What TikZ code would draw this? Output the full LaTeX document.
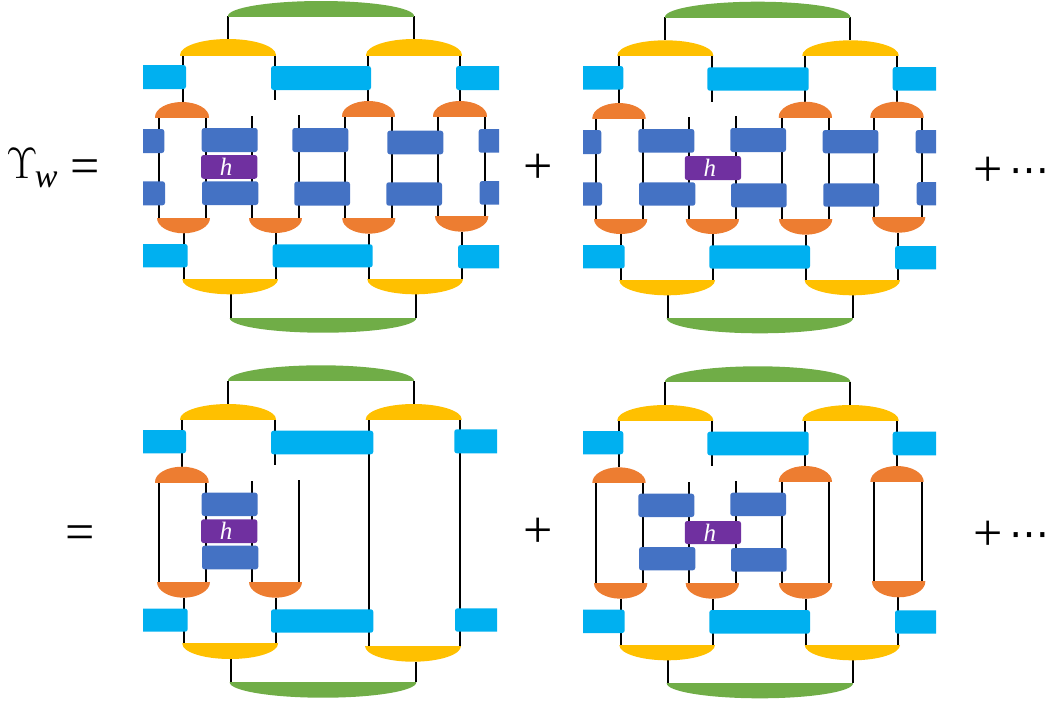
\documentclass[tikz,border=0pt]{standalone}
\usepackage{fix-cm}
\usepackage{fontspec}
\setmainfont{Liberation Serif}
\newfontfamily\dotsfont{DejaVu Sans}
\usetikzlibrary{backgrounds}
\definecolor{capgreen}{RGB}{112, 173, 71}
\definecolor{capyellow}{RGB}{255, 192, 0}
\definecolor{caporange}{RGB}{237, 125, 49}
\definecolor{boxcyan}{RGB}{0, 176, 240}
\definecolor{boxblue}{RGB}{68, 114, 196}
\definecolor{boxpurple}{RGB}{112, 48, 160}

% block from corner to corner, half ellipse cap on its flat side
\newcommand{\tbox}[6]{\node[#2, minimum width={(#5-#3)*1pt}, minimum height={(#6-#4)*1pt}] (#1) at ({(#3+#5)/2},{(#4+#6)/2}) {};}
\newcommand{\tcap}[7]{\node[capbox, minimum width={(#6-#4)*1pt}, minimum height={(#7-#5)*1pt},
  path picture={\fill[#2] (path picture bounding box.#3) ellipse [x radius={(#6-#4)/2}, y radius={#7-#5}];}] (#1) at ({(#4+#6)/2},{(#5+#7)/2}) {};}
\newcommand{\leg}[3]{\draw[leg] (#3,0 |- #1) -- (#3,0 |- #2);}
\newcommand{\hsym}{\hspace*{-6pt}\textit{h}}

\begin{document}
\begin{tikzpicture}[
  x=1pt, y=-1pt,
  capbox/.style={rectangle, inner sep=0pt, outer sep=0pt},
  cyanbox/.style={capbox, fill=boxcyan, rounded corners=2.5pt},
  bluebox/.style={capbox, fill=boxblue, rounded corners=2.5pt},
  purplebox/.style={capbox, fill=boxpurple, rounded corners=2.5pt, text=white, font=\fontsize{25}{29}\selectfont},
  leg/.style={line width=2pt, black},
  eq/.style={inner sep=0pt, font=\fontsize{52}{60}\selectfont},
  dotseq/.style={inner sep=0pt, font=\fontsize{40}{48}\dotsfont}
]
\useasboundingbox (0,0) rectangle (1047,705);

% Top left
\begin{scope}
\clip (143,0) rectangle (499,340);
\tcap{aG1}{capgreen}{south}{228}{1}{414}{16}
\tcap{aG2}{capgreen}{north}{229.7}{318}{416.3}{332.7}
\foreach \n/\xa/\xb in {aY1/180/276, aY2/366/462}{\tcap{\n}{capyellow}{south}{\xa}{39}{\xb}{55}}
\foreach \n/\xa/\xb in {aY3/182.3/278, aY4/367.3/463}{\tcap{\n}{capyellow}{north}{\xa}{279.3}{\xb}{294.3}}
\foreach \n/\xa/\ya/\xb/\yb in {aO1/155/102/209/117, aO2/342/101/395/116, aO3/433/101/487/116}{\tcap{\n}{caporange}{south}{\xa}{\ya}{\xb}{\yb}}
\foreach \n/\xa/\ya/\xb/\yb in {aO4/157/218/210/233.3, aO5/249/218/302/233, aO6/342.3/218.7/395.3/233.7, aO7/435/216.3/488.3/231.7}{\tcap{\n}{caporange}{north}{\xa}{\ya}{\xb}{\yb}}
\foreach \n/\xa/\ya/\xb/\yb in {aC1/137/65/186/89, aC2/271/66/371/90, aC3/456/66/505/90, aC4/137/244/187.7/267.3, aC5/272.7/244.3/372.7/267.3, aC6/458/245/505/268.3}{\tbox{\n}{cyanbox}{\xa}{\ya}{\xb}{\yb}}
\foreach \n/\xa/\ya/\xb/\yb in {aB1/137/129/164.3/153, aB2/201.7/128/257.7/152, aB3/292.3/128/348.3/152, aB4/387.3/130.7/443.3/154.3, aB5/478.7/129/505/152.7, aB6/137/181.3/165/205.3, aB7/202/181.3/258.3/205, aB8/294.3/181.7/350/205.7, aB9/386.3/182.3/442/205.7, aB10/479.7/181/505/204.7}{\tbox{\n}{bluebox}{\xa}{\ya}{\xb}{\yb}}
\node[purplebox, minimum width=56.3pt, minimum height=23.7pt] (aH) at (229.2,166.9) {\hsym};
\end{scope}

% Top right
\begin{scope}
\clip (583,0) rectangle (936,340);
\tcap{bG1}{capgreen}{south}{665}{1.7}{850.3}{17}
\tcap{bG2}{capgreen}{north}{666.7}{318.3}{853}{333.3}
\foreach \n/\xa/\xb in {bY1/617.3/713.3, bY2/802.3/898.7}{\tcap{\n}{capyellow}{south}{\xa}{40.3}{\xb}{55.3}}
\foreach \n/\xa/\xb in {bY3/619.3/715, bY4/804.7/900}{\tcap{\n}{capyellow}{north}{\xa}{280.3}{\xb}{295.3}}
\foreach \n/\xa/\ya/\xb/\yb in {bO1/592.3/103/645.7/118.3, bO2/778.7/101.7/832/117, bO3/870.3/101.7/923.7/117}{\tcap{\n}{caporange}{south}{\xa}{\ya}{\xb}{\yb}}
\foreach \n/\xa/\ya/\xb/\yb in {bO4/594/219/647.3/234, bO5/685.7/219/739/234, bO6/779/219/832.3/234.7, bO7/872/217/925.3/232.7}{\tcap{\n}{caporange}{north}{\xa}{\ya}{\xb}{\yb}}
\foreach \n/\xa/\ya/\xb/\yb in {bC1/577/66/623.3/89.7, bC2/707.3/67.3/808.7/90.7, bC3/892.7/67/942/90.7, bC4/577/245/624.7/268.3, bC5/709.3/245.3/810/268.7, bC6/895/246/942/269.3}{\tbox{\n}{cyanbox}{\xa}{\ya}{\xb}{\yb}}
\foreach \n/\xa/\ya/\xb/\yb in {bB1/577/130/601.3/154, bB2/638.3/129/694.3/152.7, bB3/730.3/128/786/152, bB4/822.7/130/878.3/153.3, bB5/915.7/130/942/153.3, bB6/577/182.3/602/205.7, bB7/639/182.3/695.3/205.7, bB8/731/183.3/786.7/207.3, bB9/823.3/183.3/879/206.7, bB10/916.7/182/942/205.3}{\tbox{\n}{bluebox}{\xa}{\ya}{\xb}{\yb}}
\node[purplebox, minimum width=56.3pt, minimum height=24pt] (bH) at (712.9,168) {\hsym};
\end{scope}

% Bottom left
\begin{scope}
\clip (143,360) rectangle (497,705);
\tcap{cG1}{capgreen}{south}{228}{365.3}{414}{380.7}
\tcap{cG2}{capgreen}{north}{229.7}{682.3}{416.3}{697.7}
\foreach \n/\xa/\xb in {cY1/180/276, cY2/365.7/461.7}{\tcap{\n}{capyellow}{south}{\xa}{404}{\xb}{419.3}}
\tcap{cY3}{capyellow}{north}{182.3}{643.7}{278}{659}
\tcap{cY4}{capyellow}{north}{365}{646}{461}{661.7}
\tcap{cO1}{caporange}{south}{155}{466.7}{208.7}{482}
\foreach \n/\xa/\xb in {cO4/157/210, cO5/249/302}{\tcap{\n}{caporange}{north}{\xa}{582}{\xb}{597.7}}
\foreach \n/\xa/\ya/\xb/\yb in {cC1/137/430/186/453.3, cC2/271/430.7/373.3/454.3, cC3/454.3/429.3/503/453.3, cC4/137/608.7/187.7/631.7, cC5/271/609.3/373.3/632.7, cC6/455/608.3/503/631.7}{\tbox{\n}{cyanbox}{\xa}{\ya}{\xb}{\yb}}
\tbox{cB2}{bluebox}{201.7}{492.7}{257.7}{516}
\tbox{cB7}{bluebox}{202}{545.7}{258.3}{569.3}
\node[purplebox, minimum width=56.3pt, minimum height=23.7pt] (cH) at (229.2,531.2) {\hsym};
\end{scope}

% Bottom right
\begin{scope}
\clip (583,360) rectangle (936,705);
\tcap{dG1}{capgreen}{south}{665}{366.3}{850.3}{381.7}
\tcap{dG2}{capgreen}{north}{666.7}{683.3}{853}{698.3}
\foreach \n/\xa/\xb in {dY1/617.3/713.3, dY2/802.3/898.7}{\tcap{\n}{capyellow}{south}{\xa}{405}{\xb}{420.3}}
\foreach \n/\xa/\xb in {dY3/619.3/715, dY4/804.7/900}{\tcap{\n}{capyellow}{north}{\xa}{645}{\xb}{660.3}}
\foreach \n/\xa/\ya/\xb/\yb in {dO1/592.3/467.3/645.7/482.7, dO2/778.7/466/832/481.7, dO3/870.3/466/923.7/481.7}{\tcap{\n}{caporange}{south}{\xa}{\ya}{\xb}{\yb}}
\foreach \n/\xa/\ya/\xb/\yb in {dO4/594/583.3/647.3/598.7, dO5/685.7/583.3/739/598.7, dO6/779/583.3/832.3/598.7, dO7/872/581.7/925.3/597.3}{\tcap{\n}{caporange}{north}{\xa}{\ya}{\xb}{\yb}}
\foreach \n/\xa/\ya/\xb/\yb in {dC1/577/431/623.3/454.3, dC2/707.3/431.7/808.7/455.3, dC3/892.7/431.7/942/455.3, dC4/577/609.7/624.7/633, dC5/709.3/610/810/633.7, dC6/895/610.3/942/633.7}{\tbox{\n}{cyanbox}{\xa}{\ya}{\xb}{\yb}}
\foreach \n/\xa/\ya/\xb/\yb in {dB2/638.3/493.7/694.3/517, dB3/730.3/492.7/786/516, dB7/639/547/695.3/570.3, dB8/731/548/786.7/571.7}{\tbox{\n}{bluebox}{\xa}{\ya}{\xb}{\yb}}
\node[purplebox, minimum width=56.3pt, minimum height=23pt] (dH) at (712.9,532.5) {\hsym};
\end{scope}

% Free leg ends
\coordinate (aE1) at (274.7,100);
\coordinate (aE2) at (252.3,116);
\coordinate (aE3) at (299.3,115);
\coordinate (bE1) at (711.7,101.7);
\coordinate (bE2) at (689.3,117);
\coordinate (bE3) at (736,116);
\coordinate (cE1) at (274.7,464.7);
\coordinate (cE2) at (252.3,481);
\coordinate (cE3) at (299.3,480);
\coordinate (dE1) at (711.7,466);
\coordinate (dE2) at (689.3,482);
\coordinate (dE3) at (736,481);

% Legs
\begin{scope}[on background layer]
\foreach \p/\q/\x in {aG1.south/aY1.north/228, aG1.south/aY2.north/414, aY1.south/aO1.north/182.5, aY1.south/aE1/274.7, aY2.south/aO2.north/367.7, aY2.south/aO3.north/460,
  aO1.south/aO4.north/159.3, aO1.south/aO4.north/206, aE2/aO5.north/252.3, aE3/aO5.north/299.3, aO2.south/aO6.north/344.7, aO2.south/aO6.north/392, aO3.south/aO7.north/437.7, aO3.south/aO7.north/485,
  aO4.south/aY3.north/184, aO5.south/aY3.north/276.3, aO6.south/aY4.north/369, aO7.south/aY4.north/461.7, aY3.south/aG2.north/230.7, aY4.south/aG2.north/415.7}{\leg{\p}{\q}{\x}}
\foreach \p/\q/\x in {bG1.south/bY1.north/665, bG1.south/bY2.north/850.3, bY1.south/bO1.north/619.3, bY1.south/bE1/711.7, bY2.south/bO2.north/804.7, bY2.south/bO3.north/897,
  bO1.south/bO4.north/596.3, bO1.south/bO4.north/643.3, bE2/bO5.north/689.3, bE3/bO5.north/736, bO2.south/bO6.north/781.7, bO2.south/bO6.north/829, bO3.south/bO7.north/874.3, bO3.south/bO7.north/921.7,
  bO4.south/bY3.north/621, bO5.south/bY3.north/713.3, bO6.south/bY4.north/806, bO7.south/bY4.north/898.3, bY3.south/bG2.north/667.7, bY4.south/bG2.north/852.7}{\leg{\p}{\q}{\x}}
\foreach \p/\q/\x in {cG1.south/cY1.north/228, cG1.south/cY2.north/413.7, cY1.south/cO1.north/182.3, cY1.south/cE1/274.7, cY2.south/cY4.north/368.7, cY2.south/cY4.north/459.7,
  cO1.south/cO4.north/159.3, cO1.south/cO4.north/206, cE2/cO5.north/252.3, cE3/cO5.north/299.3,
  cO4.south/cY3.north/184, cO5.south/cY3.north/276.3, cY3.south/cG2.north/230.7, cY4.south/cG2.north/415.7}{\leg{\p}{\q}{\x}}
\foreach \p/\q/\x in {dG1.south/dY1.north/665, dG1.south/dY2.north/850.3, dY1.south/dO1.north/619.3, dY1.south/dE1/711.7, dY2.south/dO2.north/804.7, dY2.south/dO3.north/897,
  dO1.south/dO4.north/596.3, dO1.south/dO4.north/643.3, dE2/dO5.north/689.3, dE3/dO5.north/736, dO2.south/dO6.north/781.7, dO2.south/dO6.north/829, dO3.south/dO7.north/874.3, dO3.south/dO7.north/921.7,
  dO4.south/dY3.north/621, dO5.south/dY3.north/713.3, dO6.south/dY4.north/806, dO7.south/dY4.north/898.3, dY3.south/dG2.north/667.7, dY4.south/dG2.north/852.7}{\leg{\p}{\q}{\x}}
\end{scope}

% Equation
\node[eq, anchor=base west] (lhs) at (6,178) {\fontsize{44}{52}\selectfont$\Upsilon$\kern-3pt\raisebox{-9pt}{\fontsize{34}{38}\selectfont\itshape w}\kern 13pt\raisebox{-5pt}{\fontsize{52}{60}\selectfont=}};
\node[eq] (plusa) at (538,169) {+};
\node[eq] (plusb) at (988,172) {+};
\node[dotseq] (dotsb) at (1029,176) {⋯};
\node[eq] (eqc) at (80,538) {=};
\node[eq] (plusc) at (538,533) {+};
\node[eq] (plusd) at (988,536) {+};
\node[dotseq] (dotsd) at (1029,540) {⋯};

\end{tikzpicture}
\end{document}
